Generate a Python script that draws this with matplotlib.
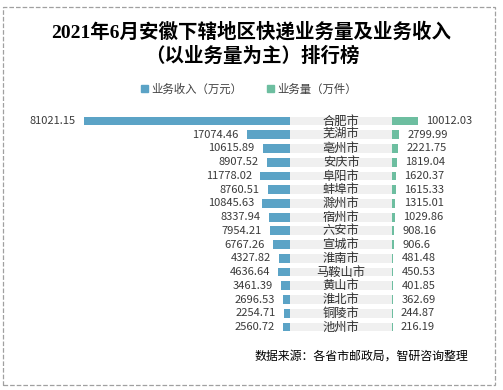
import matplotlib.pyplot as plt
from matplotlib.patches import Rectangle, Patch

plt.rcParams['font.family'] = ['Noto Sans CJK SC', 'DejaVu Sans']

# 数据
cities = ['合肥市', '芜湖市', '亳州市', '安庆市', '阜阳市', '蚌埠市', '滁州市', '宿州市', '六安市',
          '宣城市', '淮南市', '马鞍山市', '黄山市', '淮北市', '铜陵市', '池州市']
income = [81021.15, 17074.46, 10615.89, 8907.52, 11778.02, 8760.51, 10845.63, 8337.94, 7954.21,
          6767.26, 4327.82, 4636.64, 3461.39, 2696.53, 2254.71, 2560.72]
volume = [10012.03, 2799.99, 2221.75, 1819.04, 1620.37, 1615.33, 1315.01, 1029.86, 908.16,
          906.6, 481.48, 450.53, 401.85, 362.69, 244.87, 216.19]

c_blue = '#5ba3c6'
c_green = '#6dbea0'
c_band = '#f0f0f0'


def fmt(v):
    return f'{v:.2f}'.rstrip('0').rstrip('.')


W, H = 503, 390
fig = plt.figure(figsize=(W / 100, H / 100), dpi=100)

n = len(cities)
ypos = list(range(n))
row_top, row_bot = 121, 327
step = (row_bot - row_top) / (n - 1)
ax_top = row_top - step / 2
ax_bot = row_bot + step / 2
b = (H - ax_bot) / H
h = (ax_bot - ax_top) / H
bh = 0.64


def px(x0, x1):
    return [x0 / W, b, (x1 - x0) / W, h]


# 左侧：业务收入
ax_l = fig.add_axes(px(84, 290))
ax_l.barh(ypos, income, height=bh, color=c_blue)
ax_l.set_xlim(max(income), 0)
for y, v in zip(ypos, income):
    ax_l.annotate(fmt(v), (v, y), xytext=(-6, 0), textcoords='offset points',
                  ha='right', va='center', fontsize=8, color='#3a3a3a', annotation_clip=False)

# 中间：城市名
ax_m = fig.add_axes(px(290, 392))
ax_m.barh(ypos, [1] * n, height=bh, color=c_band)
ax_m.set_xlim(0, 1)
for y, c in zip(ypos, cities):
    ax_m.text(0.5, y, c, ha='center', va='center', fontsize=8.8, color='#303030')

# 右侧：业务量
ax_r = fig.add_axes(px(392, 492))
ax_r.barh(ypos, volume, height=bh, color=c_green)
ax_r.set_xlim(0, max(volume) * 100 / 26)
for y, v in zip(ypos, volume):
    ax_r.annotate(fmt(v), (v, y), xytext=(6, 0), textcoords='offset points',
                  ha='left', va='center', fontsize=8, color='#3a3a3a', annotation_clip=False)

for ax in (ax_l, ax_m, ax_r):
    ax.set_ylim(n - 0.5, -0.5)
    ax.axis('off')

# 标题
fig.text(251 / W, 1 - 32 / H, '2021年6月安徽下辖地区快递业务量及业务收入',
         ha='center', va='center', fontsize=14, fontweight='bold',
         family=['Liberation Serif', 'Noto Sans CJK SC'])
fig.text(252 / W, 1 - 56 / H, '（以业务量为主）排行榜',
         ha='center', va='center', fontsize=14, fontweight='bold',
         family=['Liberation Serif', 'Noto Sans CJK SC'])

# 图例
handles = [Patch(color=c_blue, label='业务收入（万元）'), Patch(color=c_green, label='业务量（万件）')]
fig.legend(handles=handles, loc='center', bbox_to_anchor=(249 / W, 1 - 89 / H), ncol=2,
           frameon=False, fontsize=8.2, handlelength=0.6, handleheight=0.6,
           handletextpad=0.3, columnspacing=2.2, labelcolor='#404040')

# 数据来源
fig.text(468 / W, 1 - 356 / H, '数据来源：各省市邮政局，智研咨询整理',
         ha='right', va='center', fontsize=8.6, color='black')

# 外框
fig.patches.append(Rectangle((3 / W, 1 - 385 / H), 492 / W, 378 / H, transform=fig.transFigure,
                             fill=False, edgecolor='#a0a0a0', linestyle='--', linewidth=0.9))

fig.savefig('out.png', dpi=100)
